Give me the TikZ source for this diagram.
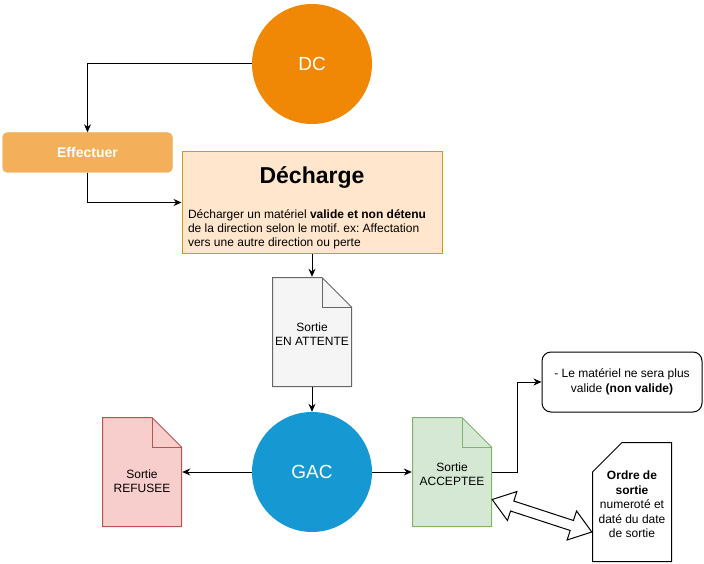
\documentclass[tikz,border=0pt]{standalone}
\usepackage{fontspec}
\setmainfont{Liberation Sans}
\usepackage{tikz}
\usetikzlibrary{arrows.meta, shapes.arrows, calc}

\definecolor{dcorange}{HTML}{F08705}
\definecolor{efforange}{HTML}{F4AF5B}
\definecolor{dechfill}{HTML}{FFE6CC}
\definecolor{dechdraw}{HTML}{D79B00}
\definecolor{attfill}{HTML}{F5F5F5}
\definecolor{attdraw}{HTML}{666666}
\definecolor{gacblue}{HTML}{1699D3}
\definecolor{reffill}{HTML}{F8CECC}
\definecolor{refdraw}{HTML}{B85450}
\definecolor{accfill}{HTML}{D5E8D4}
\definecolor{accdraw}{HTML}{82B366}

\begin{document}
\begin{tikzpicture}[
            x=1pt, y=-1pt,
            conn/.style={draw=black, line width=1pt, -{Stealth[length=8pt, width=7pt]}},
            bigcircle/.style={circle, minimum size=120pt, inner sep=0pt, text=white, font=\fontsize{19}{23}\selectfont},
            effbox/.style={rectangle, rounded corners=5pt, fill=efforange, draw=efforange, minimum width=170pt, minimum height=40pt, text=white, font=\fontsize{14}{17}\selectfont\bfseries},
            dechbox/.style={rectangle, fill=dechfill, draw=dechdraw, line width=1pt, minimum width=260pt, minimum height=101pt, inner xsep=6pt, inner ysep=0pt},
            notebox/.style={rectangle, rounded corners=9pt, draw=black, fill=white, line width=1pt, minimum width=160pt, minimum height=60pt, align=center, font=\fontsize{12}{14.4}\selectfont},
            doc/.style 2 args={rectangle, minimum width=80pt, minimum height=110pt, inner sep=2pt, align=center, font=\fontsize{12}{14.6}\selectfont,
                path picture={
                    \path[fill=#1, draw=#2, line width=1pt]
                        ([shift={(.5pt,.5pt)}]path picture bounding box.south west)
                        -- ([shift={(.5pt,-.5pt)}]path picture bounding box.north west)
                        -- ([shift={(-30pt,-.5pt)}]path picture bounding box.north east)
                        -- ([shift={(-.5pt,-30pt)}]path picture bounding box.north east)
                        -- ([shift={(-.5pt,.5pt)}]path picture bounding box.south east) -- cycle;
                    \draw[draw=#2, line width=1pt]
                        ([shift={(-30pt,-.5pt)}]path picture bounding box.north east)
                        -- ([shift={(-30pt,-30pt)}]path picture bounding box.north east)
                        -- ([shift={(-.5pt,-30pt)}]path picture bounding box.north east);
                }},
            card/.style={rectangle, minimum width=80pt, minimum height=120pt, inner sep=2pt, align=center, font=\fontsize{12}{14.5}\selectfont,
                path picture={
                    \path[fill=white, draw=black, line width=1pt]
                        ([shift={(.5pt,.5pt)}]path picture bounding box.south west)
                        -- ([shift={(.5pt,-30pt)}]path picture bounding box.north west)
                        -- ([shift={(30pt,-.5pt)}]path picture bounding box.north west)
                        -- ([shift={(-.5pt,-.5pt)}]path picture bounding box.north east)
                        -- ([shift={(-.5pt,.5pt)}]path picture bounding box.south east) -- cycle;
                }},
            flexarrow/.style={double arrow, draw=black, fill=white, line width=1pt, inner sep=4.75pt, minimum width=0pt, double arrow head extend=10pt, double arrow tip angle=72}
        ]
            \useasboundingbox (0,0) rectangle (704,564);

            \node[bigcircle, fill=dcorange] (dc) at (312,64) {DC};
            \node[effbox] (eff) at (87.5,152.5) {\raisebox{-1.5pt}{Effectuer}};
            \node[dechbox] (dech) at (312,202.5) {%
                \begin{minipage}[c][101pt][t]{248pt}
                    \frenchspacing
                    \vspace*{15pt}
                    {\centering\fontsize{23}{28}\selectfont\bfseries Décharge\par}
                    \vspace{21pt}
                    {\raggedright\fontsize{12}{14}\selectfont Décharger un matériel \textbf{valide et non détenu}\\
                    de la direction selon le motif. ex: Affectation\\
                    vers une autre direction ou perte\par}
                \end{minipage}};
            \node[doc={attfill}{attdraw}] (att) at (312,332) {\rule{0pt}{13pt}Sortie\\EN ATTENTE};
            \node[bigcircle, fill=gacblue] (gac) at (312,472) {GAC};
            \node[doc={reffill}{refdraw}] (ref) at (142,472) {\rule{0pt}{27pt}Sortie\\REFUSEE};
            \node[doc={accfill}{accdraw}] (acc) at (452,472) {\rule{0pt}{13pt}Sortie\\ACCEPTEE};
            \node[notebox] (note) at (622,382) {- Le matériel ne sera plus\\valide \textbf{(non valide)}};
            \node[card] (ord) at (632,502) {\rule{0pt}{14pt}\textbf{Ordre de}\\\textbf{sortie}\\numeroté et\\daté du date\\de sortie};

            \draw[conn] (dc.west) -| (eff.north);
            \draw[conn] (eff.south) |- (dech.west);
            \draw[conn] (dech.south) -- (att.north);
            \draw[conn] (att.south) -- (gac.north);
            \draw[conn] (gac.west) -- (ref.east);
            \draw[conn] (gac.east) -- (acc.west);
            \draw[conn] (acc.east) -- ++(25,0) |- (note.west);

            \coordinate (flexa) at ([yshift=-27.5pt]acc.east);
            \coordinate (flexb) at ([yshift=-30pt]ord.west);
            \path let \p1=($(flexb)-(flexa)$), \n1={atan2(\y1,\x1)}, \n2={veclen(\x1,\y1)} in
                node[flexarrow, rotate=\n1, minimum height=\n2] (flex) at ($(flexa)!.5!(flexb)$) {};
        \end{tikzpicture}
\end{document}
